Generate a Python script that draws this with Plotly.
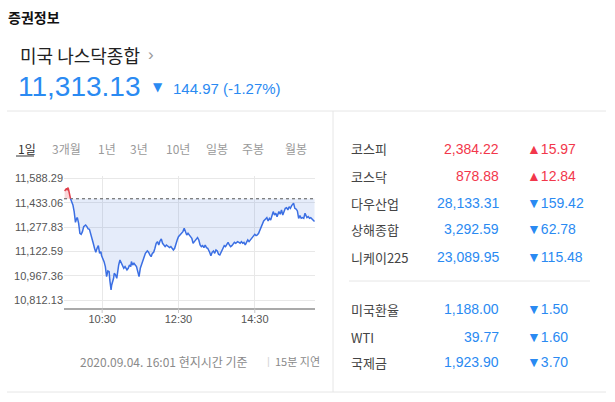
import plotly.graph_objects as go
from datetime import datetime, timedelta

# ---------------- data ----------------
index_name = "미국 나스닥종합"
last_value = "11,313.13"
change_text = "144.97 (-1.27%)"
prev_close = 11458.10

# minutes after 09:30 (2020-09-04) and index value
minutes = [1, 3, 4, 5, 6, 7, 8, 9, 10, 14, 16, 18, 20, 21, 23, 25, 27, 29, 31, 34,
           36, 38, 40, 42, 44, 46, 48, 50, 52, 54, 56, 58, 59, 61, 63, 65, 67, 69, 71, 72,
           74, 75, 78, 79, 81, 83, 84, 86, 88, 90, 92, 94, 96, 99, 101, 103, 105, 106, 108, 110,
           112, 114, 116, 118, 120, 122, 124, 126, 128, 131, 133, 135, 137, 139, 141, 143, 145, 147, 149, 151,
           153, 155, 157, 159, 161, 164, 166, 168, 170, 172, 174, 176, 178, 180, 182, 184, 187, 189, 191, 193,
           195, 197, 199, 201, 203, 205, 208, 210, 212, 214, 216, 218, 220, 222, 224, 226, 229, 231, 233, 235,
           237, 239, 241, 243, 245, 247, 249, 252, 254, 256, 258, 260, 262, 264, 266, 268, 270, 273, 275, 277,
           279, 281, 283, 285, 287, 289, 291, 294, 296, 298, 300, 302, 304, 306, 308, 310, 312, 314, 317, 319,
           321, 323, 325, 327, 329, 331, 333, 335, 338, 340, 342, 344, 346, 348, 350, 352, 354, 356, 358, 361,
           363, 365, 367, 369, 371, 373, 375, 377, 379, 382, 384, 386, 388, 390, 392, 394]
values = [11507.7, 11520.4, 11524.7, 11512.0, 11528.9, 11520.4, 11492.9, 11478.0, 11461.1, 11418.7,
          11376.2, 11308.4, 11333.8, 11338.1, 11302.0, 11238.4, 11232.0, 11249.0, 11280.8, 11291.4,
          11280.8, 11266.0, 11263.8, 11238.4, 11202.4, 11174.8, 11143.0, 11117.5, 11143.0, 11159.9,
          11111.2, 11121.8, 11096.3, 11079.4, 11058.1, 11026.3, 10962.7, 10998.8, 10994.5, 10941.5,
          10877.9, 10909.7, 10952.1, 10983.9, 10973.3, 10952.1, 10994.5, 11036.9, 11068.8, 11047.5,
          11036.9, 11015.7, 11026.3, 11005.1, 11015.7, 11036.9, 11026.3, 11058.1, 11036.9, 11047.5,
          11036.9, 11026.3, 10994.5, 10962.7, 11015.7, 11036.9, 11068.8, 11079.4, 11111.2, 11126.0,
          11117.5, 11100.6, 11090.0, 11111.2, 11117.5, 11143.0, 11174.8, 11185.4, 11164.2, 11189.6,
          11202.4, 11174.8, 11164.2, 11153.6, 11164.2, 11153.6, 11147.2, 11153.6, 11143.0, 11132.4,
          11143.0, 11174.8, 11196.0, 11217.2, 11227.8, 11238.4, 11249.0, 11270.2, 11249.0, 11227.8,
          11238.4, 11223.6, 11217.2, 11206.6, 11174.8, 11185.4, 11202.4, 11210.8, 11196.0, 11164.2,
          11153.6, 11159.9, 11147.2, 11164.2, 11147.2, 11143.0, 11117.5, 11096.3, 11117.5, 11126.0,
          11111.2, 11132.4, 11126.0, 11104.8, 11100.6, 11117.5, 11143.0, 11159.9, 11153.6, 11164.2,
          11181.1, 11164.2, 11153.6, 11159.9, 11174.8, 11181.1, 11174.8, 11185.4, 11181.1, 11174.8,
          11185.4, 11174.8, 11181.1, 11164.2, 11181.1, 11196.0, 11185.4, 11202.4, 11210.8, 11223.6,
          11232.0, 11223.6, 11227.8, 11238.4, 11259.6, 11280.8, 11308.4, 11316.9, 11329.6, 11338.1,
          11316.9, 11333.8, 11323.2, 11355.0, 11376.2, 11355.0, 11365.6, 11344.4, 11376.2, 11359.3,
          11386.8, 11355.0, 11376.2, 11397.4, 11401.7, 11386.8, 11408.0, 11397.4, 11414.4, 11429.3,
          11397.4, 11393.2, 11380.5, 11333.8, 11350.8, 11333.8, 11338.1, 11333.8, 11365.6, 11338.1,
          11344.4, 11333.8, 11338.1, 11329.6, 11316.9, 11313.13]

y_ticks = [10812.13, 10967.36, 11122.59, 11277.83, 11433.06, 11588.29]
x_tick_labels = ["10:30", "12:30", "14:30"]
tabs = ["1일", "3개월", "1년", "3년", "10년", "일봉", "주봉", "월봉"]

market_names = ["코스피", "코스닥", "다우산업", "상해종합", "니케이225", "미국환율", "WTI", "국제금"]
market_values = ["2,384.22", "878.88", "28,133.31", "3,292.59", "23,089.95", "1,188.00", "39.77", "1,923.90"]
market_changes = ["15.97", "12.84", "159.42", "62.78", "115.48", "1.50", "1.60", "3.70"]
market_up = [True, True, False, False, False, False, False, False]

footer_time = "2020.09.04. 16:01 현지시간 기준"
footer_delay = "15분 지연"

# ---------------- helpers ----------------
W, H = 615, 402
base = datetime(2020, 9, 4, 9, 30)


def px(x):
    return x / W


def py(y):
    return 1 - y / H


def t(m):
    return base + timedelta(minutes=m)


RED = "#f2374b"
BLUE = "#2a8af2"
LINE_BLUE = "#3b6fe3"
LINE_RED = "#e0404c"
KFONT = "Noto Sans CJK KR"
NFONT = "Liberation Sans, Noto Sans CJK KR"

# augment with crossing points
aug = []
for i, (m, v) in enumerate(zip(minutes, values)):
    if i > 0:
        m0, v0 = minutes[i - 1], values[i - 1]
        if (v0 - prev_close) * (v - prev_close) < 0:
            f = (prev_close - v0) / (v - v0)
            aug.append((m0 + f * (m - m0), prev_close))
    aug.append((m, v))

ax = [t(m) for m, _ in aug]
upper = [max(v, prev_close) for _, v in aug]
lower = [min(v, prev_close) for _, v in aug]
red_line = [v if v >= prev_close else None for _, v in aug]
blue_line = [v if v <= prev_close else None for _, v in aug]
base_line = [prev_close] * len(aug)

fig = go.Figure()
fig.add_trace(go.Scatter(x=ax, y=base_line, mode="lines", line=dict(width=0), hoverinfo="skip"))
fig.add_trace(go.Scatter(x=ax, y=upper, mode="lines", line=dict(width=0), fill="tonexty",
                         fillcolor="rgba(230,70,80,0.22)", hoverinfo="skip"))
fig.add_trace(go.Scatter(x=ax, y=base_line, mode="lines", line=dict(width=0), hoverinfo="skip"))
fig.add_trace(go.Scatter(x=ax, y=lower, mode="lines", line=dict(width=0), fill="tonexty",
                         fillcolor="rgba(70,120,220,0.14)", hoverinfo="skip"))
x_start = base
x_end = base + timedelta(minutes=394.7)
fig.add_trace(go.Scatter(x=[x_start, x_end], y=[prev_close, prev_close], mode="lines",
                         line=dict(color="#555555", width=1, dash="dot"), hoverinfo="skip"))
fig.add_trace(go.Scatter(x=ax, y=red_line, mode="lines", line=dict(color=LINE_RED, width=1.5),
                         connectgaps=False))
fig.add_trace(go.Scatter(x=ax, y=blue_line, mode="lines", line=dict(color=LINE_BLUE, width=1.5),
                         connectgaps=False))

x_tick_vals = [datetime(2020, 9, 4, int(s[:2]), int(s[3:])) for s in x_tick_labels]

fig.update_layout(
    width=W, height=H,
    margin=dict(l=0, r=0, t=0, b=0),
    paper_bgcolor="white", plot_bgcolor="white",
    showlegend=False,
    xaxis=dict(
        domain=[px(64), px(315)],
        range=[x_start, x_end],
        type="date",
        tickvals=x_tick_vals,
        ticktext=x_tick_labels,
        showgrid=True, gridcolor="#e8e8e8", gridwidth=1,
        showline=True, linecolor="#aaaaaa", linewidth=2,
        ticks="",
        tickfont=dict(family=NFONT, size=11, color="#555555"),
        zeroline=False, automargin=False, fixedrange=True,
    ),
    yaxis=dict(
        domain=[py(307.7), py(176)],
        range=[10765, 11603],
        tickvals=y_ticks,
        ticktext=[f"{v:,.2f}" for v in y_ticks],
        showgrid=True, gridcolor="#e8e8e8", gridwidth=1,
        showline=False, ticks="", zeroline=False,
        tickfont=dict(family=NFONT, size=11, color="#555555"),
        automargin=False, fixedrange=True,
    ),
)

ann = []


def text(x, y, s, size, color, family=KFONT, anchor="left"):
    ann.append(dict(x=px(x), y=py(y), xref="paper", yref="paper", text=s, showarrow=False,
                    xanchor=anchor, yanchor="middle",
                    font=dict(family=family, size=size, color=color)))


text(6, 17, "<b>증권정보</b>", 14, "#111111")
text(18, 55, index_name, 18, "#222222")
text(146, 55, "›", 17, "#999999", family=NFONT)
text(16, 86, last_value, 28, BLUE, family=NFONT)
text(151, 87, "▼", 12, BLUE, family="DejaVu Sans")
text(171, 89, change_text, 15, BLUE, family=NFONT)

tab_x = [16, 50, 96, 128, 164, 204, 240, 283]
for i, (lab, x) in enumerate(zip(tabs, tab_x)):
    text(x, 149, lab, 12, "#333333" if i == 0 else "#9a9a9a")

rows_y = [149, 176, 203, 229, 257, 309, 337, 362]
for name, val, ch, up, y in zip(market_names, market_values, market_changes, market_up, rows_y):
    c = RED if up else BLUE
    text(349, y, name, 13, "#444444")
    text(501, y, val, 14, c, family=NFONT, anchor="right")
    text(525, y, ("▲" if up else "▼") + ch, 14, c, family=NFONT)

text(78, 361, footer_time, 12, "#8a8a8a")
text(265, 361, "|", 11, "#d6d6d6", family=NFONT)
text(273, 361, footer_delay, 11, "#8a8a8a")

fig.update_layout(annotations=ann)

shapes = [
    dict(type="line", xref="paper", yref="paper", x0=px(7), x1=px(606), y0=py(111), y1=py(111),
         line=dict(color="#e6e6e6", width=1)),
    dict(type="line", xref="paper", yref="paper", x0=px(333), x1=px(333), y0=py(111), y1=py(392),
         line=dict(color="#e6e6e6", width=1)),
    dict(type="line", xref="paper", yref="paper", x0=px(7), x1=px(606), y0=py(392), y1=py(392),
         line=dict(color="#e6e6e6", width=1)),
    dict(type="line", xref="paper", yref="paper", x0=px(349), x1=px(590), y0=py(281), y1=py(281),
         line=dict(color="#e6e6e6", width=1)),
    dict(type="line", xref="paper", yref="paper", x0=px(16), x1=px(34), y0=py(156), y1=py(156),
         line=dict(color="#333333", width=1)),
]
# x-axis tick marks below the axis line
for tv in x_tick_vals:
    shapes.append(dict(type="line", xref="x", yref="paper", x0=tv, x1=tv, y0=py(308.5), y1=py(313),
                       line=dict(color="#c8c8c8", width=1)))
fig.update_layout(shapes=shapes)

fig.write_html("out.html")
